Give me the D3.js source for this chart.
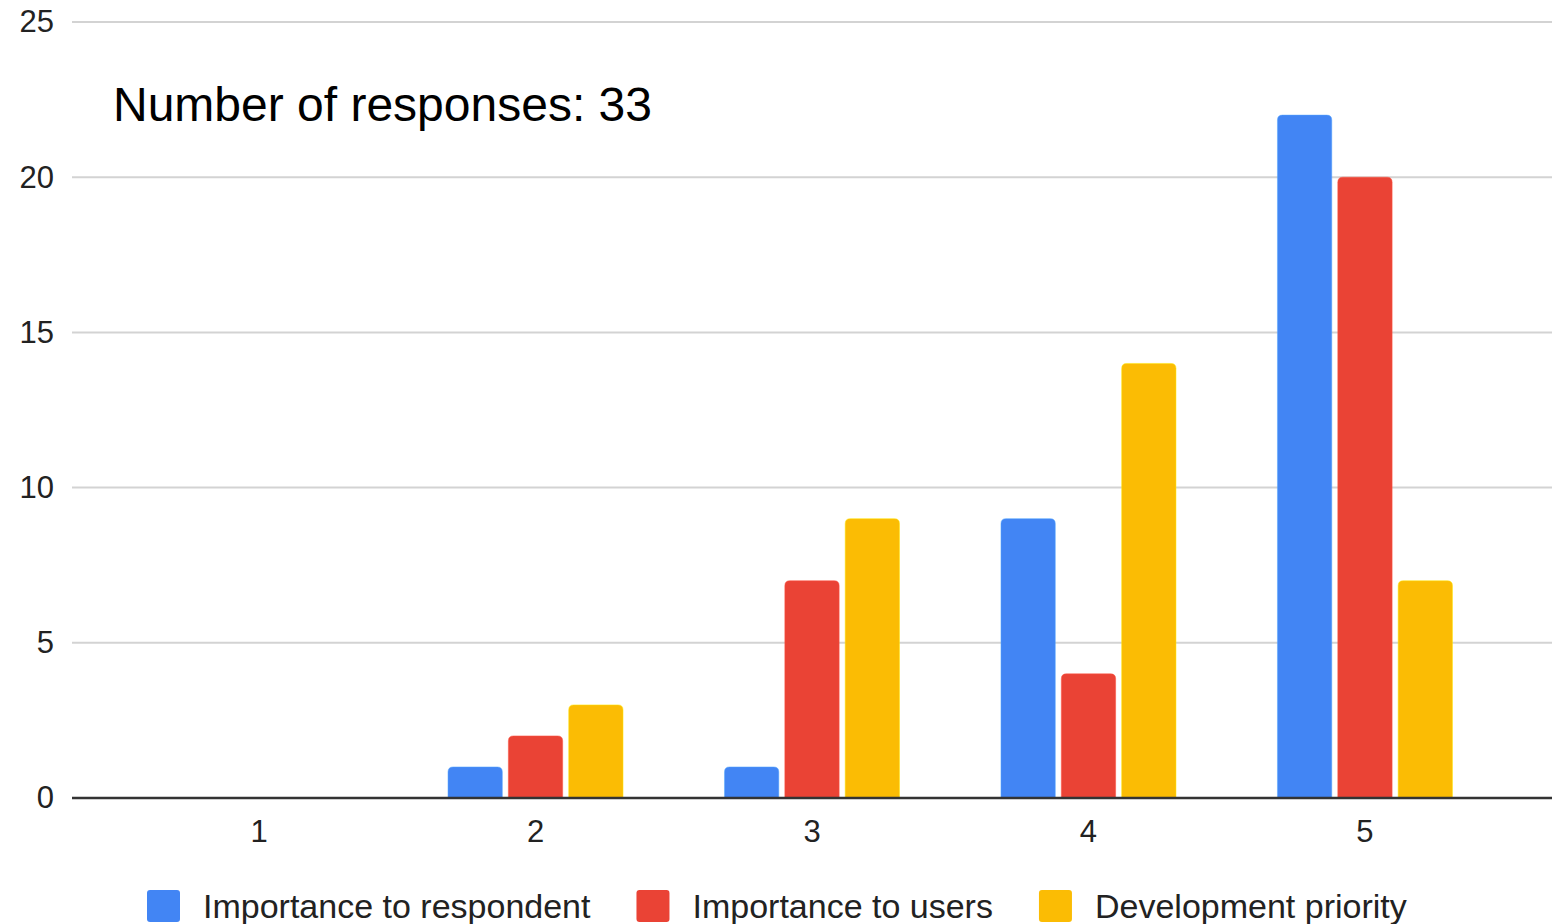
<!DOCTYPE html>
<html>
<head>
<meta charset="utf-8">
<script src="https://cdn.jsdelivr.net/npm/d3@7"></script>
<style>
  html, body { margin: 0; padding: 0; background: #fff; }
  svg { display: block; font-family: "Liberation Sans", Arial, sans-serif; }
</style>
</head>
<body>
<svg id="chart" width="1562" height="924"></svg>
<script>
// Rating categories (1 = lowest, 5 = highest)
const categories = ["1", "2", "3", "4", "5"];
const seriesNames = ["Importance to respondent", "Importance to users", "Development priority"];
const importanceToRespondent = [0, 1, 1, 9, 22];
const importanceToUsers = [0, 2, 7, 4, 20];
const developmentPriority = [0, 3, 9, 14, 7];
const yTicks = [0, 5, 10, 15, 20, 25];
const colors = ["#4285F4", "#EA4335", "#FBBC04"];
const responseCount = 33;

const seriesValues = [importanceToRespondent, importanceToUsers, developmentPriority];

const svg = d3.select("#chart");
const plot = { left: 72, right: 1552, top: 22, bottom: 798 };

const y = d3.scaleLinear().domain([0, 25]).range([plot.bottom, plot.top]);
const x0 = d3.scaleBand().domain(categories)
  .range([plot.left, plot.right]).paddingInner(0.367).paddingOuter(0.36);
const x1 = d3.scaleBand().domain(d3.range(seriesNames.length))
  .range([0, x0.bandwidth()]).paddingInner(0.1);

// Horizontal gridlines
svg.append("g")
  .selectAll("line")
  .data(yTicks.filter(t => t !== 0))
  .join("line")
  .attr("x1", plot.left).attr("x2", plot.right)
  .attr("y1", d => y(d)).attr("y2", d => y(d))
  .attr("stroke", "#d3d3d3").attr("stroke-width", 2);

// Y axis labels
const yAxis = d3.axisLeft(y).tickValues(yTicks).tickSize(0).tickPadding(18);
const gy = svg.append("g").attr("transform", `translate(${plot.left},0)`).call(yAxis);
gy.select(".domain").remove();
gy.selectAll("text")
  .attr("font-size", 31).attr("fill", "#222")
  .attr("font-family", "Liberation Sans, Arial, sans-serif");

// X axis labels
const xAxis = d3.axisBottom(x0).tickSize(0).tickPadding(22);
const gx = svg.append("g").attr("transform", `translate(0,${plot.bottom})`).call(xAxis);
gx.select(".domain").remove();
gx.selectAll("text")
  .attr("font-size", 31).attr("fill", "#222")
  .attr("font-family", "Liberation Sans, Arial, sans-serif");

// Bars with rounded top corners
function barPath(x, w, yTop, yBase, r) {
  const h = yBase - yTop;
  if (h <= 0) return "";
  const rr = Math.min(r, h, w / 2);
  return `M${x},${yBase}V${yTop + rr}Q${x},${yTop} ${x + rr},${yTop}` +
         `H${x + w - rr}Q${x + w},${yTop} ${x + w},${yTop + rr}V${yBase}Z`;
}

const groups = svg.append("g")
  .selectAll("g")
  .data(categories)
  .join("g")
  .attr("transform", d => `translate(${x0(d)},0)`);

groups.selectAll("path")
  .data((d, i) => seriesValues.map((vals, s) => ({ s, v: vals[i] })))
  .join("path")
  .attr("d", d => barPath(x1(d.s), x1.bandwidth(), y(d.v), y(0), 5))
  .attr("fill", d => colors[d.s])
  .attr("stroke", d => d3.color(colors[d.s]).brighter(0.6))
  .attr("stroke-opacity", 0.5)
  .attr("stroke-width", 1);

// Baseline
svg.append("line")
  .attr("x1", plot.left).attr("x2", plot.right)
  .attr("y1", y(0)).attr("y2", y(0))
  .attr("stroke", "#333").attr("stroke-width", 2.5);

// Annotation
svg.append("text")
  .attr("x", 113).attr("y", 121)
  .attr("font-size", 48).attr("fill", "#000")
  .text(`Number of responses: ${responseCount}`);

// Legend
const legend = svg.append("g").attr("transform", "translate(147,890)");
let lx = 0;
seriesNames.forEach((name, i) => {
  const item = legend.append("g").attr("transform", `translate(${lx},0)`);
  item.append("rect")
    .attr("width", 33).attr("height", 32).attr("rx", 3)
    .attr("fill", colors[i]);
  const t = item.append("text")
    .attr("x", 56).attr("y", 28)
    .attr("font-size", 34).attr("fill", "#222")
    .text(name);
  lx += 56 + t.node().getComputedTextLength() + 46;
});
</script>
</body>
</html>
